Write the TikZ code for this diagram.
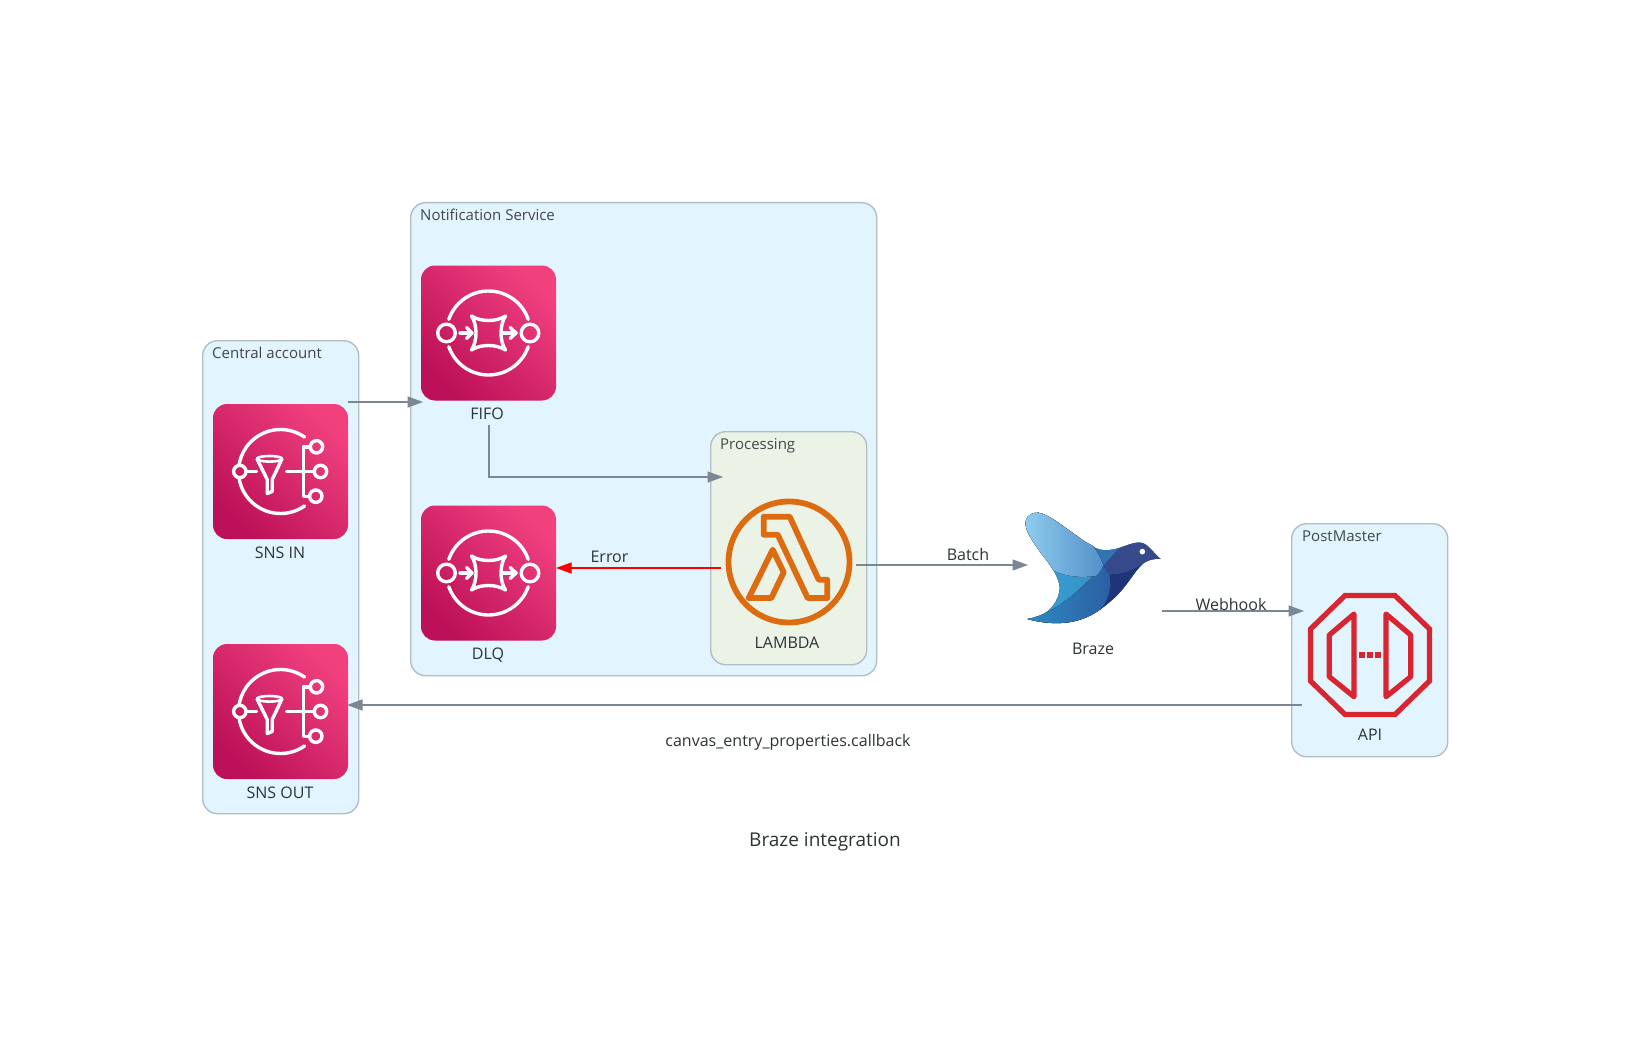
\documentclass[tikz,border=0pt]{standalone}
\usepackage{fontspec}
\setmainfont{Open Sans}
\usetikzlibrary{arrows.meta}
\definecolor{edgegrey}{HTML}{7B8794}
\definecolor{clusterline}{HTML}{B2BEC3}
\definecolor{clusterblue}{HTML}{E2F4FD}
\definecolor{clustergreen}{HTML}{EBF3E7}
\definecolor{inktext}{HTML}{2D3436}
\definecolor{pinklo}{HTML}{BC1058}
\definecolor{pinkhi}{HTML}{F0407E}
\definecolor{lambdaorange}{HTML}{DD6B10}
\definecolor{apired}{HTML}{D9252F}
\definecolor{HTMLblueA}{HTML}{3AA0D2}
\definecolor{HTMLblueB}{HTML}{2E87BF}
\definecolor{HTMLblueC}{HTML}{2F8AC1}
\definecolor{HTMLblueD}{HTML}{2B5EA2}
\definecolor{HTMLblueE}{HTML}{1F3479}
\definecolor{HTMLblueF}{HTML}{2F73B1}
\definecolor{HTMLblueG}{HTML}{364A8B}
\definecolor{HTMLblueH}{HTML}{8FCDEF}
\definecolor{HTMLblueI}{HTML}{5490C8}
\tikzset{
  clusterbox/.style={draw=clusterline,line width=1.4pt,rounded corners=15pt,inner sep=0pt,anchor=north west},
  clustertitle/.style={anchor=west,inner sep=0pt,text=inktext!90,font=\fontsize{15}{18}\selectfont},
  iconbox/.style={rounded corners=14pt,minimum width=135pt,minimum height=135pt,inner sep=0pt,
    bottom color=pinklo,top color=pinkhi,shading angle=-45},
  nodelabel/.style={inner sep=0pt,text=inktext,font=\fontsize{16}{19}\selectfont},
  flow/.style={draw=edgegrey,line width=1.3pt,-{Triangle[length=15.5pt,width=11pt,fill=edgegrey]}},
  errorflow/.style={draw=red,line width=1.3pt,-{Triangle[length=15.5pt,width=11pt,fill=red]}},
  glyph/.style={draw=white,line width=3.4pt,line cap=round,line join=round},
  sqsglyph/.pic={
    \draw[glyph] (19:42pt) arc[start angle=19,end angle=161,radius=42pt];
    \draw[glyph] (-19:42pt) arc[start angle=-19,end angle=-161,radius=42pt];
    \draw[glyph] (-42,0) circle[radius=8.8pt];
    \draw[glyph] (41.5,0) circle[radius=8.8pt];
    \draw[glyph] (-28.5,0) -- (-16.5,0);
    \draw[glyph] (-22,-5.5) -- (-16.5,0) -- (-22,5.5);
    \draw[glyph] (15,0) -- (27.5,0);
    \draw[glyph] (21.5,-5.5) -- (27.5,0) -- (21.5,5.5);
    \draw[glyph] (-17,-17) .. controls (-8,-11) and (8,-11) .. (17,-17)
      .. controls (11,-8) and (11,8) .. (17,17)
      .. controls (8,11) and (-8,11) .. (-17,17)
      .. controls (-11,8) and (-11,-8) .. cycle;
  },
  snsglyph/.pic={
    \draw[glyph] (55:42pt) arc[start angle=55,end angle=172,radius=42pt];
    \draw[glyph] (-55:42pt) arc[start angle=-55,end angle=-172,radius=42pt];
    \draw[glyph] (-40.7,0) circle[radius=6.2pt];
    \draw[glyph] (-34,0) -- (-24,0);
    \draw[glyph] (-23.5,-12.7) -- (-13.3,8) -- (-13.3,22) -- (-8.3,20) -- (-8.3,8) -- (1.5,-12.7);
    \draw[glyph,line width=2.6pt] (-11,-12.7) ellipse[x radius=12.5pt,y radius=2.8pt];
    \draw[glyph] (6,0) -- (33.5,0);
    \draw[glyph] (30,-24.7) -- (22.7,-24.7) -- (22.7,24.7) -- (29,24.7);
    \draw[glyph] (40,0) circle[radius=6.2pt];
    \draw[glyph] (36,-24.7) circle[radius=6.2pt];
    \draw[glyph] (35.3,24.7) circle[radius=6.2pt];
  },
  lambdaglyph/.pic={
    \draw[draw=lambdaorange,line width=5.8pt,line join=round]
      (-25.3,-45.3) -- (0.7,-45.3) -- (29.7,17.7) -- (38.3,17.7) -- (38.3,36) -- (18.7,36)
      -- (-11.3,-27.3) -- (-25.3,-27.3) -- cycle;
    \draw[draw=lambdaorange,line width=5.8pt,line join=round]
      (-16.3,-12.3) -- (-5.3,10.3) -- (-17.7,36) -- (-40.3,36) -- cycle;
  },
  apiglyph/.pic={
    \draw[draw=apired,line width=5.2pt,line join=miter]
      (-25,-59.5) -- (25,-59.5) -- (59.5,-26) -- (59.5,26) -- (25,59.5) -- (-25,59.5)
      -- (-59.5,26) -- (-59.5,-26) -- cycle;
    \draw[draw=apired,line width=5.2pt,line join=round]
      (-16,-41) -- (-40.7,-20) -- (-40.7,21.7) -- (-16,41.7) -- cycle;
    \draw[draw=apired,line width=5.2pt,line join=round]
      (16,-41) -- (40.7,-20) -- (40.7,21.7) -- (16,41.7) -- cycle;
    \fill[apired] (-11,-2.6) rectangle (-5.4,2.6);
    \fill[apired] (-2.8,-2.6) rectangle (2.8,2.6);
    \fill[apired] (5.4,-2.6) rectangle (11,2.6);
  },
  brazeglyph/.pic={
    % silhouette
    \fill[left color=HTMLblueA,right color=HTMLblueB]
      (55,23) .. controls (85,27) and (130,65) .. (170,92)
      .. controls (205,120) and (230,140) .. (270,135)
      .. controls (310,130) and (335,110) .. (362,113)
      .. controls (385,116) and (400,145) .. (422,162)
      .. controls (400,160) and (385,165) .. (370,175)
      .. controls (340,200) and (320,250) .. (270,290)
      .. controls (220,335) and (170,352) .. (125,354)
      .. controls (85,356) and (50,350) .. (22,342)
      .. controls (70,340) and (110,305) .. (118,260)
      .. controls (125,225) and (95,185) .. (60,140)
      .. controls (35,105) and (10,70) .. (18,45)
      .. controls (22,30) and (38,22) .. (55,23) -- cycle;
    % shoulder
    \fill[HTMLblueF] (218,122) .. controls (230,135) and (250,137) .. (270,135)
      .. controls (280,134) and (288,133) .. (296,130)
      -- (250,182) .. controls (243,160) and (230,140) .. (218,122) -- cycle;
    % lower body
    \fill[left color=HTMLblueC,right color=HTMLblueD]
      (22,342) .. controls (110,325) and (180,255) .. (250,182)
      -- (268,208) .. controls (278,250) and (262,295) .. (240,314)
      .. controls (205,340) and (165,352) .. (125,354)
      .. controls (85,356) and (50,350) .. (22,342) -- cycle;
    % navy breast
    \fill[HTMLblueE] (268,208) .. controls (300,208) and (340,195) .. (370,175)
      .. controls (340,200) and (320,250) .. (270,290)
      -- (240,314)
      .. controls (262,295) and (278,250) .. (268,208) -- cycle;
    % head and back
    \fill[HTMLblueG] (250,182) -- (296,130)
      .. controls (320,122) and (340,111) .. (362,113)
      .. controls (385,116) and (400,145) .. (422,162)
      .. controls (400,160) and (385,165) .. (370,175)
      .. controls (340,195) and (300,208) .. (268,208)
      -- (250,182) -- cycle;
    % wing
    \fill[left color=HTMLblueH,right color=HTMLblueI]
      (55,23) .. controls (85,27) and (130,65) .. (170,92)
      .. controls (190,108) and (205,115) .. (218,122)
      .. controls (235,145) and (245,165) .. (250,182)
      .. controls (243,195) and (237,205) .. (230,212)
      .. controls (185,220) and (135,215) .. (100,196)
      -- (85,173) .. controls (76,162) and (68,152) .. (60,140)
      .. controls (35,105) and (10,70) .. (18,45)
      .. controls (22,30) and (38,22) .. (55,23) -- cycle;
    \fill[white] (367,140) circle[radius=2.8pt];
  },
}
\begin{document}
\begin{tikzpicture}[x=1pt,y=-1pt]
\useasboundingbox[fill=white] (0,0) rectangle (1651,1051);

% clusters
\node[clusterbox,fill=clusterblue,minimum width=156pt,minimum height=473pt] (central) at (202,340) {};
\node[clusterbox,fill=clusterblue,minimum width=466pt,minimum height=473pt] (notif) at (410,202) {};
\node[clusterbox,fill=clustergreen,minimum width=156pt,minimum height=233pt] (processing) at (710,431) {};
\node[clusterbox,fill=clusterblue,minimum width=156pt,minimum height=233pt] (postmaster) at (1291,523) {};
\node[clustertitle] (centraltitle) at (212,353) {Central account};
\node[clustertitle] (notiftitle) at (420,215) {Notification Service};
\node[clustertitle] (processingtitle) at (720,446) {Processing};
\node[clustertitle] (postmastertitle) at (1302,536) {PostMaster};

% icons
\node[iconbox] (snsin) at (280.5,471.5) {};
\pic at (snsin.center) {snsglyph};
\node[nodelabel] (snsinlabel) at (280,553) {SNS IN};
\node[iconbox] (snsout) at (280.5,711.5) {};
\pic at (snsout.center) {snsglyph};
\node[nodelabel] (snsoutlabel) at (280,793) {SNS OUT};
\node[iconbox] (fifo) at (488.5,333) {};
\pic at (fifo.center) {sqsglyph};
\node[nodelabel] (fifolabel) at (487,414) {FIFO};
\node[iconbox] (dlq) at (488.5,573) {};
\pic at (dlq.center) {sqsglyph};
\node[nodelabel] (dlqlabel) at (488,655) {DLQ};
\node[draw=lambdaorange,line width=5.8pt,circle,minimum size=121pt,inner sep=0pt] (lambda) at (789,562) {};
\pic at (lambda.center) {lambdaglyph};
\node[nodelabel] (lambdalabel) at (787,643) {LAMBDA};
\coordinate (brazeorigin) at (1020,505);
\begin{scope}[x=0.3333pt,y=-0.3333pt,shift={(brazeorigin)}]
\pic at (0,0) {brazeglyph};
\end{scope}
\node[minimum width=135pt,minimum height=111pt,inner sep=0pt] (braze) at (1094.5,567.5) {};
\node[nodelabel] (brazelabel) at (1093,649) {Braze};
\node[minimum width=124pt,minimum height=124pt,inner sep=0pt] (api) at (1370,655) {};
\pic at (api.center) {apiglyph};
\node[nodelabel] (apilabel) at (1370,735) {API};

% connector ports
\coordinate (snsinport) at (348,402);
\coordinate (fifoinport) at (423,402);
\coordinate (fifoport) at (489,425);
\coordinate (procport) at (723,477);
\coordinate (lambdaerr) at (721,568);
\coordinate (dlqport) at (556,568);
\coordinate (lambdaout) at (856,565);
\coordinate (brazein) at (1028,565);
\coordinate (brazeout) at (1162,611);
\coordinate (apiin) at (1304,611);
\coordinate (apiout) at (1302,705);
\coordinate (snsoutport) at (347,705);

% connectors
\draw[flow] (snsinport) -- (fifoinport);
\draw[flow] (fifoport) |- (procport);
\draw[errorflow] (lambdaerr) -- (dlqport);
\draw[flow] (lambdaout) -- (brazein);
\draw[flow] (brazeout) -- (apiin);
\draw[flow] (apiout) -- (snsoutport);

% connector labels
\node[nodelabel] (errorlabel) at (609.5,557) {Error};
\node[nodelabel] (batchlabel) at (968,554) {Batch};
\node[nodelabel] (webhooklabel) at (1231,604) {Webhook};
\node[nodelabel] (callbacklabel) at (788,742) {canvas\_entry\_properties.callback};
\node[nodelabel,font=\fontsize{19}{23}\selectfont] (titlelabel) at (825,842) {Braze integration};
\end{tikzpicture}
\end{document}
